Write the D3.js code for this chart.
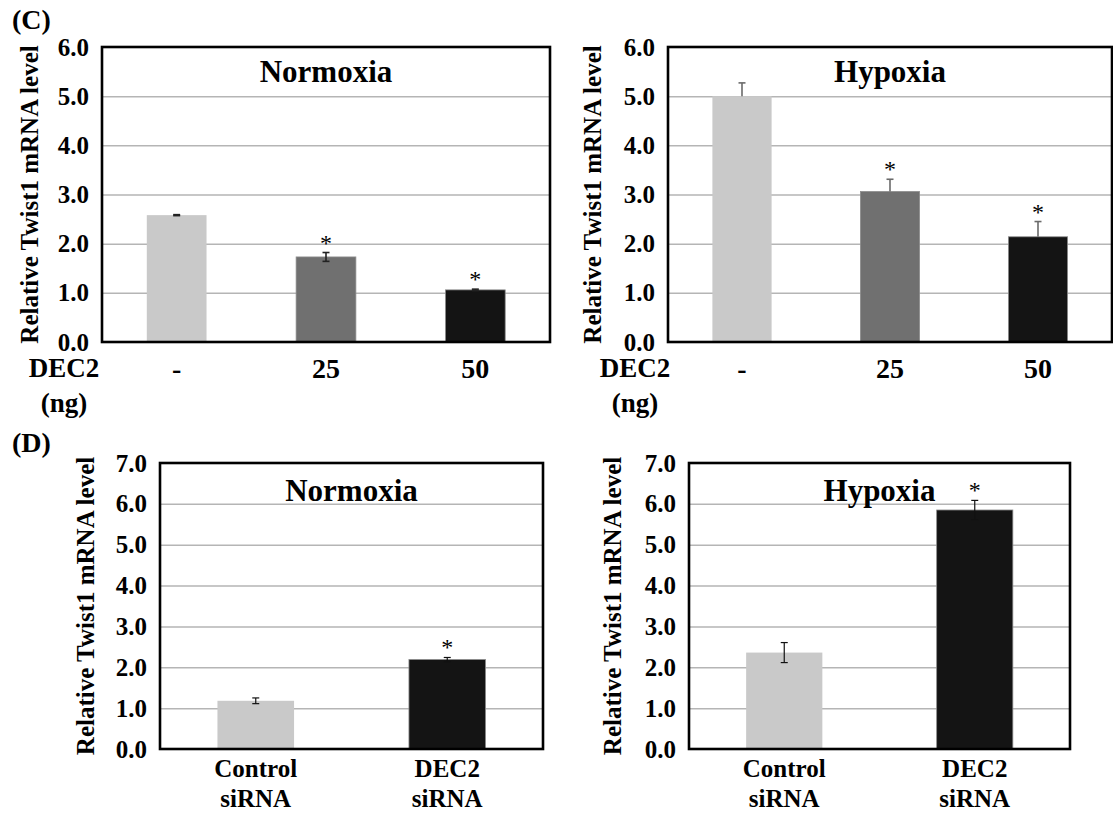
<!DOCTYPE html>
<html>
<head>
<meta charset="utf-8">
<script src="https://cdn.jsdelivr.net/npm/d3@7"></script>
<style>
  body { margin: 0; background: #fff; }
  text { font-family: "Liberation Serif", "Times New Roman", serif; font-weight: bold; fill: #000; }
</style>
</head>
<body>
<svg id="fig" width="1113" height="815"></svg>
<script>
// values
var doseLabels = ["-", "25", "50"]
var normoxiaDose = [2.58, 1.73, 1.06]
var normoxiaDoseErr = [0.01, 0.09, 0.015]
var hypoxiaDose = [5.00, 3.06, 2.14]
var hypoxiaDoseErr = [0.27, 0.25, 0.31]
var doseStars = [false, true, true]
var doseTicks = [0, 1, 2, 3, 4, 5, 6]

var sirnaLabels = [["Control", "siRNA"], ["DEC2", "siRNA"]]
var normoxiaSi = [1.18, 2.19]
var normoxiaSiErr = [0.07, 0.05]
var hypoxiaSi = [2.36, 5.85]
var hypoxiaSiErr = [0.245, 0.235]
var sirnaStars = [false, true]
var sirnaTicks = [0, 1, 2, 3, 4, 5, 6, 7]

var doseColors = ["#c9c9c9", "#707070", "#141414"]
var sirnaColors = ["#c9c9c9", "#141414"]

var svg = d3.select("#fig")

var panels = [
  {left: 102, top: 47, width: 448, height: 295, ticks: doseTicks, cats: doseLabels, values: normoxiaDose, err: normoxiaDoseErr,
   stars: doseStars, colors: doseColors, title: "Normoxia", titleDy: 35, plusOnly: false, errColor: "#222", errWidth: 1.6,
   labelSize: 28, labelDy: 36, yTitleDx: 73, decX: 64},
  {left: 668, top: 47, width: 444, height: 295, ticks: doseTicks, cats: doseLabels, values: hypoxiaDose, err: hypoxiaDoseErr,
   stars: doseStars, colors: doseColors, title: "Hypoxia", titleDy: 35, plusOnly: true, errColor: "#6a6a6a", errWidth: 1.6,
   labelSize: 28, labelDy: 36, yTitleDx: 76, decX: 635},
  {left: 160, top: 463, width: 383, height: 286, ticks: sirnaTicks, cats: sirnaLabels, values: normoxiaSi, err: normoxiaSiErr,
   stars: sirnaStars, colors: sirnaColors, title: "Normoxia", titleDy: 38, plusOnly: false, errColor: "#111", errWidth: 1.2,
   labelSize: 25, labelDy: 28, yTitleDx: 75},
  {left: 689, top: 463, width: 381, height: 286, ticks: sirnaTicks, cats: sirnaLabels, values: hypoxiaSi, err: hypoxiaSiErr,
   stars: sirnaStars, colors: sirnaColors, title: "Hypoxia", titleDy: 38, plusOnly: false, errColor: "#111", errWidth: 1.2,
   labelSize: 25, labelDy: 28, yTitleDx: 77}
]

var drawPanel = function(p){
  var g = svg.append("g").attr("transform", "translate(" + p.left + "," + p.top + ")")
  var idx = p.values.map(function(d, i){ return i })

  var x = d3.scaleBand().domain(idx).range([0, p.width]).paddingInner(0.6).paddingOuter(0.3)
  var y = d3.scaleLinear().domain([0, d3.max(p.ticks)]).range([p.height, 0])

  // gridlines
  g.append("g")
    .call(d3.axisLeft(y).tickValues(p.ticks.slice(1, -1)).tickSize(-p.width).tickFormat(""))
    .call(function(s){ s.select(".domain").remove() })
    .selectAll("line").attr("stroke", "#b5b5b5").attr("stroke-width", 1.5)

  // bars
  g.selectAll("rect.bar").data(p.values).enter().append("rect")
    .attr("class", "bar")
    .attr("x", function(d, i){ return x(i) })
    .attr("width", x.bandwidth())
    .attr("y", function(d){ return y(d) })
    .attr("height", function(d){ return y(0) - y(d) })
    .attr("fill", function(d, i){ return p.colors[i] })
    .attr("stroke", function(d, i){ return i == 0 ? "none" : "#8c8c8c" })
    .attr("stroke-width", 0.8)

  // error bars
  var cap = 3.5
  p.values.forEach(function(v, i){
    var cx = x(i) + x.bandwidth() / 2
    var hi = y(v + p.err[i]), lo = p.plusOnly ? y(v) : y(v - p.err[i])
    var e = g.append("g").attr("stroke", p.errColor).attr("stroke-width", p.errWidth)
    e.append("line").attr("x1", cx).attr("x2", cx).attr("y1", hi).attr("y2", lo)
    e.append("line").attr("x1", cx - cap).attr("x2", cx + cap).attr("y1", hi).attr("y2", hi)
    if (!p.plusOnly) e.append("line").attr("x1", cx - cap).attr("x2", cx + cap).attr("y1", lo).attr("y2", lo)
    if (p.stars[i]) {
      g.append("text").attr("x", cx).attr("y", hi - 2)
        .attr("text-anchor", "middle").style("font-size", "24px").style("font-weight", "normal")
        .text("*")
    }
  })

  // frame
  g.append("rect").attr("width", p.width).attr("height", p.height)
    .attr("fill", "none").attr("stroke", "#000").attr("stroke-width", 2.6)

  // y axis labels
  g.append("g")
    .call(d3.axisLeft(y).tickValues(p.ticks).tickSize(0).tickPadding(13).tickFormat(d3.format(".1f")))
    .call(function(s){ s.select(".domain").remove() })
    .selectAll("text").style("font-size", "25px")
    .style("font-family", "'Liberation Serif', 'Times New Roman', serif").style("font-weight", "bold")

  g.append("text")
    .attr("transform", "translate(" + (-p.yTitleDx) + "," + (p.height / 2) + ") rotate(-90)")
    .attr("text-anchor", "middle").attr("dy", "0.35em").style("font-size", "25px")
    .text("Relative Twist1 mRNA level")

  // title
  g.append("text").attr("x", p.width / 2).attr("y", p.titleDy)
    .attr("text-anchor", "middle").style("font-size", "31px").text(p.title)

  // x labels
  p.cats.forEach(function(c, i){
    var t = g.append("text").attr("x", x(i) + x.bandwidth() / 2).attr("y", p.height + p.labelDy)
      .attr("text-anchor", "middle").style("font-size", p.labelSize + "px")
    var lines = Array.isArray(c) ? c : [c]
    lines.forEach(function(l, k){
      t.append("tspan").attr("x", x(i) + x.bandwidth() / 2).attr("dy", k == 0 ? 0 : 30).text(l)
    })
  })

  if (p.decX) {
    svg.append("text").attr("x", p.decX).attr("y", p.top + p.height + p.labelDy - 1)
      .attr("text-anchor", "middle").style("font-size", "27px").text("DEC2")
    svg.append("text").attr("x", p.decX).attr("y", p.top + p.height + 70)
      .attr("text-anchor", "middle").style("font-size", "27px").text("(ng)")
  }
}

panels.forEach(drawPanel)

svg.append("text").attr("x", 12).attr("y", 29).style("font-size", "28px").text("(C)")
svg.append("text").attr("x", 12).attr("y", 452).style("font-size", "28px").text("(D)")
</script>
</body>
</html>
